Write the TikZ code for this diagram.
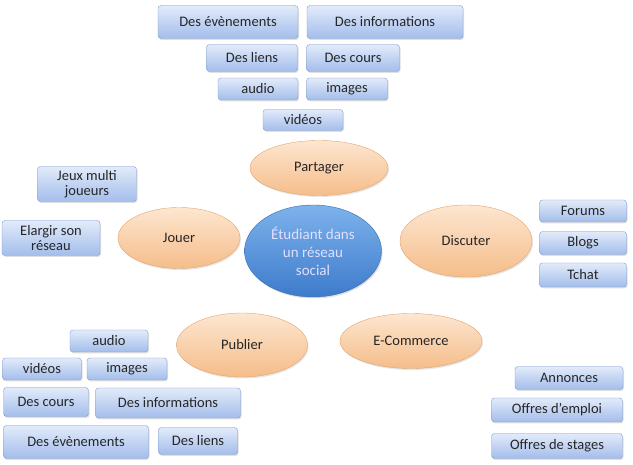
\documentclass[tikz,border=0pt]{standalone}
\usepackage{fontspec}
\setmainfont{Carlito}
\usepackage{tikz}
\usetikzlibrary{shapes.geometric}
\usetikzlibrary{shadows}
\definecolor{boxtop}{HTML}{E2EBFA}
\definecolor{boxbot}{HTML}{A3BDEB}
\definecolor{boxline}{HTML}{7C9BD2}
\definecolor{ortop}{HTML}{FDE6D0}
\definecolor{orbot}{HTML}{F5BD8A}
\definecolor{orline}{HTML}{E3A46E}
\definecolor{bltop}{HTML}{7DB2EC}
\definecolor{blbot}{HTML}{3D7BCB}
\definecolor{blline}{HTML}{3A6DB5}

\begin{document}
\begin{tikzpicture}[x = 1pt, y = -1pt,
  boite/.style = {rectangle, rounded corners = 3pt, draw = boxline, top color = boxtop, bottom color = boxbot,
    drop shadow = {opacity = .25, shadow xshift = 1pt, shadow yshift = -1.5pt},
    inner sep = 0, align = center, font = \fontsize{14.5}{15}\selectfont, text = black!85},
  bulle/.style = {ellipse, draw = orline, top color = ortop, bottom color = orbot,
    drop shadow = {opacity = .2, shadow xshift = 1pt, shadow yshift = -1.5pt},
    inner sep = 0, font = \fontsize{14.5}{15}\selectfont, text = black!85}]
  \useasboundingbox (0, 0) rectangle (633, 465);
  % centre
  \node (etud) at (313, 251) [ellipse, draw = blline, top color = bltop, bottom color = blbot,
    drop shadow = {opacity = .25, shadow xshift = 1pt, shadow yshift = -1.5pt},
    minimum width = 137, minimum height = 92, inner sep = 0, align = center, text = white!88!blue,
    font = \fontsize{15}{18}\selectfont] {Étudiant dans\\un réseau\\social};
  % bulles
  \node (partager) at (319, 168) [bulle, minimum width = 138, minimum height = 55] {Partager};
  \node (jouer) at (179, 238) [bulle, minimum width = 122, minimum height = 61] {Jouer};
  \node (discuter) at (466, 241) [bulle, minimum width = 132, minimum height = 72] {Discuter};
  \node (publier) at (242, 345) [bulle, minimum width = 131, minimum height = 64] {Publier};
  \node (ecom) at (411, 341) [bulle, minimum width = 142, minimum height = 55] {E-Commerce};
  % partager
  \node (pev) at (228, 22) [boite, minimum width = 140, minimum height = 33] {Des évènements};
  \node (pinfo) at (385, 22) [boite, minimum width = 156, minimum height = 33] {Des informations};
  \node (pliens) at (252, 58) [boite, minimum width = 91, minimum height = 27] {Des liens};
  \node (pcours) at (353, 58) [boite, minimum width = 93, minimum height = 27] {Des cours};
  \node (paudio) at (258, 89) [boite, minimum width = 80, minimum height = 22] {audio};
  \node (pimages) at (347, 89) [boite, minimum width = 81, minimum height = 22] {images};
  \node (pvideos) at (303, 120) [boite, minimum width = 80, minimum height = 21] {vidéos};
  % jouer
  \node (jeux) at (87, 184) [boite, minimum width = 99, minimum height = 35] {Jeux multi\\joueurs};
  \node (elargir) at (51, 238) [boite, minimum width = 98, minimum height = 35] {Elargir son\\réseau};
  % discuter
  \node (forums) at (583, 211) [boite, minimum width = 87, minimum height = 22] {Forums};
  \node (blogs) at (583, 243) [boite, minimum width = 87, minimum height = 23] {Blogs};
  \node (tchat) at (583, 275) [boite, minimum width = 87, minimum height = 24] {Tchat};
  % e-commerce
  \node (annonces) at (569, 378) [boite, minimum width = 108, minimum height = 23] {Annonces};
  \node (emploi) at (557, 410) [boite, minimum width = 131, minimum height = 24] {Offres d’emploi};
  \node (stages) at (557, 446) [boite, minimum width = 131, minimum height = 25] {Offres de stages};
  % publier
  \node (uaudio) at (109, 341) [boite, minimum width = 78, minimum height = 22] {audio};
  \node (uvideos) at (42, 369) [boite, minimum width = 79, minimum height = 22] {vidéos};
  \node (uimages) at (127, 369) [boite, minimum width = 80, minimum height = 22] {images};
  \node (ucours) at (46, 402) [boite, minimum width = 85, minimum height = 29] {Des cours};
  \node (uinfo) at (168, 403) [boite, minimum width = 145, minimum height = 30] {Des informations};
  \node (uev) at (76, 442) [boite, minimum width = 145, minimum height = 33] {Des évènements};
  \node (uliens) at (198, 441) [boite, minimum width = 79, minimum height = 27] {Des liens};
\end{tikzpicture}
\end{document}
